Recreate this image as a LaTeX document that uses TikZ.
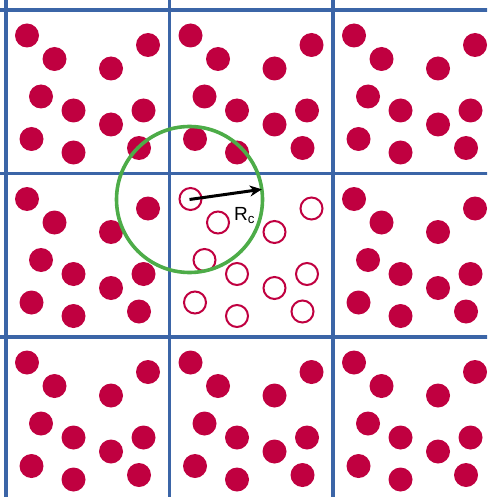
\documentclass[tikz,border=0pt]{standalone}
\usepackage{fontspec}
\setmainfont{Liberation Sans}
\usepackage{tikz}
\usetikzlibrary{
  arrows.meta,
  calc
}
\usepackage{xcolor}
\definecolor{cellblue}{RGB}{59, 101, 167}
\definecolor{partred}{RGB}{192, 0,  64}
\definecolor{cutgreen}{RGB}{77, 172, 72}
\tikzset{
  % Periodic cell boundaries
  cellline/.style  = {line width=3.8pt, draw=cellblue},
  % Particles
  partfull/.style  = {fill=partred},
  partopen/.style  = {draw=partred, line width=2pt},
  % Cut-off sphere and radius
  cutcircle/.style = {draw=cutgreen, line width=3.6pt},
  radarrow/.style  = {-{Stealth[length=12pt,width=11pt]}, line width=3pt, black},
  % Labels
  lab/.style       = {font=\fontsize{19}{22}\selectfont, inner sep=1pt},
}
% particle positions inside one cell (from its top-left corner)
\def\partlist{21/25.5, 48.5/49, 142/35, 105/58.5, 35/86.5, 67.5/100.5,
  137.5/100.5, 105/114.5, 25.5/129, 67.5/142.5, 133/138}

\begin{document}
\begin{tikzpicture}[x=1pt, y=-1pt]
  \useasboundingbox (0,0) rectangle (487,497);
  \clip (0,0) rectangle (487,497);
  % cell grid (continues past the frame)
  \foreach \k in {0,1,2,3} {
    \draw[cellline] (6+163.5*\k,-10) -- (6+163.5*\k,510);
    \draw[cellline] (-10,10+163.5*\k) -- (500,10+163.5*\k);
  }
  % image particles in the periodic copies
  \foreach \ci/\cj in {0/0,1/0,2/0,0/1,2/1,0/2,1/2,2/2} {
    \foreach \px/\py in \partlist
      \fill[partfull] (6+163.5*\ci+\px,10+163.5*\cj+\py) circle[radius=12];
  }
  % particles of the central cell
  \foreach \px/\py in \partlist
    \draw[partopen] (169.5+\px,173.5+\py) circle[radius=11];
  % cut-off radius
  \coordinate (rc0) at (189.5,199.5);
  \coordinate (rc1) at ($(rc0)+(72.3,-10.2)$);
  \draw[cutcircle] (rc0) circle[radius=73];
  \draw[radarrow] (rc0) -- (rc1);
  \node[lab] (rclab) at (244.5,215.5) {R\textsubscript{c}};
\end{tikzpicture}
\end{document}
